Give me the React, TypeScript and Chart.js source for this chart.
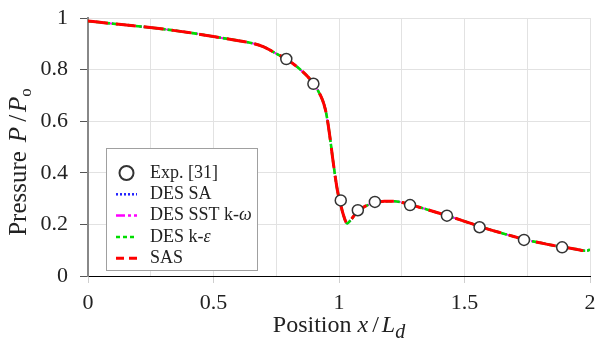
import React, { useEffect, useRef } from 'react';
import { Chart, registerables } from 'chart.js';

Chart.register(...registerables);

const SERIF = '"Liberation Serif", "Times New Roman", serif';

// Simulation positions x/Ld
const positions = [0, 0.1, 0.2, 0.3, 0.4, 0.5, 0.6, 0.65, 0.7, 0.75, 0.79, 0.84, 0.88, 0.9, 0.92, 0.935, 0.945, 0.955, 0.965, 0.975, 0.985, 0.995, 1.005, 1.015, 1.033, 1.045, 1.075, 1.1, 1.14, 1.18, 1.22, 1.26, 1.3, 1.35, 1.4, 1.45, 1.5, 1.55, 1.6, 1.65, 1.7, 1.75, 1.8, 1.85, 1.9, 1.95, 1.98, 1.995, 2.0];
const sas = [0.988, 0.978, 0.968, 0.957, 0.944, 0.928, 0.912, 0.903, 0.888, 0.862, 0.841, 0.805, 0.768, 0.745, 0.712, 0.68, 0.648, 0.598, 0.53, 0.455, 0.385, 0.325, 0.285, 0.245, 0.204, 0.215, 0.252, 0.268, 0.283, 0.29, 0.29, 0.283, 0.272, 0.258, 0.243, 0.228, 0.212, 0.196, 0.18, 0.166, 0.152, 0.139, 0.129, 0.119, 0.111, 0.103, 0.098, 0.1, 0.105];
const desKE = [0.988, 0.978, 0.968, 0.957, 0.944, 0.928, 0.912, 0.903, 0.888, 0.862, 0.841, 0.805, 0.768, 0.745, 0.712, 0.68, 0.648, 0.598, 0.53, 0.455, 0.385, 0.325, 0.285, 0.245, 0.204, 0.215, 0.252, 0.268, 0.283, 0.29, 0.29, 0.283, 0.272, 0.258, 0.243, 0.228, 0.212, 0.196, 0.18, 0.166, 0.152, 0.139, 0.129, 0.119, 0.111, 0.103, 0.098, 0.1, 0.104];
const desSST = [0.988, 0.978, 0.968, 0.957, 0.944, 0.928, 0.912, 0.903, 0.888, 0.862, 0.841, 0.805, 0.768, 0.745, 0.712, 0.68, 0.648, 0.598, 0.53, 0.455, 0.385, 0.325, 0.285, 0.245, 0.204, 0.215, 0.252, 0.268, 0.283, 0.29, 0.29, 0.283, 0.272, 0.258, 0.243, 0.228, 0.212, 0.196, 0.18, 0.166, 0.152, 0.139, 0.129, 0.119, 0.111, 0.103, 0.098, 0.1, 0.104];
const desSA = [0.988, 0.978, 0.968, 0.957, 0.944, 0.928, 0.912, 0.903, 0.888, 0.862, 0.841, 0.805, 0.768, 0.745, 0.712, 0.68, 0.648, 0.598, 0.53, 0.455, 0.385, 0.325, 0.285, 0.245, 0.204, 0.215, 0.252, 0.268, 0.283, 0.29, 0.29, 0.283, 0.272, 0.258, 0.243, 0.228, 0.212, 0.196, 0.18, 0.166, 0.152, 0.139, 0.129, 0.119, 0.111, 0.103, 0.098, 0.1, 0.104];

// Experimental data
const expX = [0.79, 0.898, 1.007, 1.075, 1.143, 1.283, 1.43, 1.56, 1.737, 1.889];
const expP = [0.841, 0.745, 0.293, 0.255, 0.287, 0.275, 0.234, 0.189, 0.14, 0.111];

const xTickLabels = ['0', '0.5', '1', '1.5', '2'];
const yTickLabels = ['0', '0.2', '0.4', '0.6', '0.8', '1'];

const seriesNames = ['Exp. [31]', 'DES SA', 'DES SST k-', 'DES k-', 'SAS'];
const seriesGreek = ['', '', 'ω', 'ε', ''];
const seriesColors = ['#333333', '#2222ff', '#ff00ff', '#00dd00', '#ff0000'];

const toPts = (xs: number[], ys: number[]) => xs.map((x, i) => ({ x, y: ys[i] }));

type Seg = { text: string; font: string; dy?: number; gap?: number };

function drawRich(ctx: CanvasRenderingContext2D, segs: Seg[], cx: number, y: number) {
  let total = 0;
  const widths = segs.map((s) => {
    ctx.font = s.font;
    const w = ctx.measureText(s.text).width + (s.gap || 0);
    total += w;
    return w;
  });
  let x = cx - total / 2;
  ctx.textAlign = 'left';
  ctx.textBaseline = 'alphabetic';
  segs.forEach((s, i) => {
    ctx.font = s.font;
    ctx.fillText(s.text, x + (s.gap || 0), y + (s.dy || 0));
    x += widths[i];
  });
}

const overlayPlugin = {
  id: 'overlay',
  afterDraw(chart: any) {
    const ctx: CanvasRenderingContext2D = chart.ctx;
    const { left, right, top, bottom } = chart.chartArea;
    ctx.save();
    ctx.fillStyle = '#222';

    // X title
    const reg = `24px ${SERIF}`;
    const ita = `italic 24px ${SERIF}`;
    drawRich(
      ctx,
      [
        { text: 'Position', font: reg },
        { text: 'x', font: ita, gap: 6 },
        { text: '/', font: reg, gap: 4 },
        { text: 'L', font: ita, gap: 3 },
        { text: 'd', font: `italic 20px ${SERIF}`, dy: 6 },
      ],
      (left + right) / 2,
      bottom + 56
    );

    // Y title
    ctx.save();
    ctx.translate(26, (top + bottom) / 2 + 15);
    ctx.rotate(-Math.PI / 2);
    const reg25 = `25px ${SERIF}`;
    const ita25 = `italic 25px ${SERIF}`;
    drawRich(
      ctx,
      [
        { text: 'Pressure', font: reg25 },
        { text: 'P', font: ita25, gap: 9 },
        { text: '/', font: reg25, gap: 5 },
        { text: 'P', font: ita25, gap: 3 },
        { text: 'o', font: `17px ${SERIF}`, dy: 5 },
      ],
      0,
      0
    );
    ctx.restore();

    // Legend
    const bx = left + 18;
    const by = top + 130;
    const bw = 151;
    const bh = 122;
    ctx.fillStyle = '#ffffff';
    ctx.fillRect(bx, by, bw, bh);
    ctx.strokeStyle = '#a0a0a0';
    ctx.lineWidth = 1;
    ctx.strokeRect(bx + 0.5, by + 0.5, bw, bh);

    const rowY0 = by + 25;
    const step = 21.3;
    const sx0 = bx + 10;
    const sx1 = bx + 31;
    const tx = bx + 44;
    const dashes: number[][] = [[], [2, 2], [9, 3, 3, 3], [4, 3], [8, 5]];
    const widthsL = [2, 2.5, 2.5, 2.5, 3];
    seriesNames.forEach((name, i) => {
      const yy = rowY0 + i * step;
      ctx.strokeStyle = seriesColors[i];
      ctx.lineWidth = widthsL[i];
      if (i === 0) {
        ctx.setLineDash([]);
        ctx.beginPath();
        ctx.arc((sx0 + sx1) / 2, yy, 7, 0, Math.PI * 2);
        ctx.fillStyle = '#fff';
        ctx.fill();
        ctx.stroke();
      } else {
        ctx.setLineDash(dashes[i]);
        ctx.beginPath();
        ctx.moveTo(sx0, yy);
        ctx.lineTo(sx1, yy);
        ctx.stroke();
        ctx.setLineDash([]);
      }
      ctx.fillStyle = '#222';
      ctx.textBaseline = 'middle';
      ctx.textAlign = 'left';
      ctx.font = `18px ${SERIF}`;
      ctx.fillText(name, tx, yy);
      if (seriesGreek[i]) {
        const w = ctx.measureText(name).width;
        ctx.font = `italic 18px ${SERIF}`;
        ctx.fillText(seriesGreek[i], tx + w, yy);
      }
    });
    ctx.restore();
  },
};

export default function App() {
  const ref = useRef<HTMLCanvasElement | null>(null);
  useEffect(() => {
    if (!ref.current) return;
    const lineBase = { showLine: true, pointRadius: 0, fill: false, cubicInterpolationMode: 'monotone' as const, borderCapStyle: 'butt' as const };
    const chart = new Chart(ref.current, {
      type: 'scatter',
      data: {
        datasets: [
          {
            label: seriesNames[0],
            data: toPts(expX, expP),
            showLine: false,
            pointRadius: 5.5,
            pointBackgroundColor: '#ffffff',
            pointBorderColor: '#333333',
            pointBorderWidth: 1.5,
          },
          { ...lineBase, label: 'SAS', data: toPts(positions, sas), borderColor: '#ff0000', borderWidth: 3, borderDash: [20, 8] },
          { ...lineBase, label: 'DES k-ε', data: toPts(positions, desKE), borderColor: '#00dd00', borderWidth: 2.6, borderDash: [6, 2] },
          { ...lineBase, label: 'DES SST k-ω', data: toPts(positions, desSST), borderColor: '#ff00ff', borderWidth: 2, borderDash: [10, 3, 3, 3] },
          { ...lineBase, label: 'DES SA', data: toPts(positions, desSA), borderColor: '#2222ff', borderWidth: 2, borderDash: [2, 2] },
        ],
      },
      options: {
        animation: false,
        responsive: true,
        maintainAspectRatio: false,
        layout: { padding: { left: 0, right: 5, top: 18, bottom: 0 } },
        plugins: { legend: { display: false }, tooltip: { enabled: false } },
        scales: {
          x: {
            type: 'linear',
            min: 0,
            max: 2,
            afterFit: (s: any) => {
              s.height = 66;
              s.paddingLeft = 0;
              s.paddingRight = 0;
            },
            border: { color: '#000000', width: 1 },
            grid: {
              color: '#e2e2e2',
              lineWidth: 1,
              tickLength: 7,
              tickColor: (c: any) => (c.index % 2 === 0 ? '#cfcfcf' : 'rgba(0,0,0,0)'),
            },
            ticks: {
              stepSize: 0.25,
              autoSkip: false,
              maxRotation: 0,
              padding: 7,
              color: '#222',
              font: { family: SERIF, size: 22 },
              callback: (_v: any, i: number) => (i % 2 === 0 ? xTickLabels[i / 2] : ''),
            },
          },
          y: {
            type: 'linear',
            min: 0,
            max: 1,
            afterFit: (s: any) => {
              s.width = 88;
              s.paddingTop = 0;
              s.paddingBottom = 0;
            },
            border: { color: '#888888', width: 2 },
            grid: { color: '#e2e2e2', lineWidth: 1, tickLength: 8, tickColor: '#555555' },
            ticks: {
              stepSize: 0.2,
              autoSkip: false,
              padding: 12,
              color: '#222',
              font: { family: SERIF, size: 22 },
              callback: (_v: any, i: number) => yTickLabels[i],
            },
          },
        },
      },
      plugins: [overlayPlugin],
    });
    return () => chart.destroy();
  }, []);
  return (
    <div style={{ position: 'fixed', left: 0, top: 0, width: 597, height: 342, background: '#fff' }}>
      <canvas ref={ref} />
    </div>
  );
}
